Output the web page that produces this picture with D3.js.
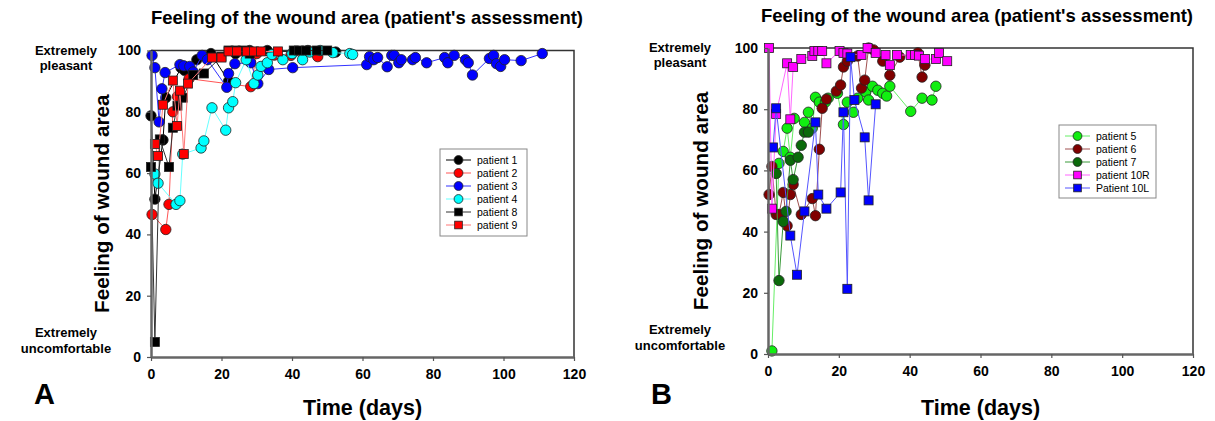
<!DOCTYPE html>
<html><head><meta charset="utf-8">
<script src="https://cdn.jsdelivr.net/npm/d3@7"></script>
<style>
body{margin:0;background:#fff;}
text{font-family:"Liberation Sans",Arial,sans-serif;font-weight:bold;fill:#000;}
</style></head>
<body><svg id="c" width="1215" height="421"></svg>
<script>
// ---------- data (day, score) ----------
const patient1 = [[0,78.7],[1.1,51.5],[3.4,70.8],[4.2,84.6],[8.5,94.4],[9.5,93.5],[13,97],[17,99],[22,90],[24,99],[28,100],[33,100],[40.5,99.5],[44.5,100],[46.3,99.5],[52.4,99.5]];
const patient2 = [[0.3,46.5],[4.2,41.6],[5.1,49.8],[6.2,80],[7.5,85],[10.8,90.8],[28.3,88.2],[30,99],[35,98.5],[39.7,98.4],[47.3,98]];
const patient3 = [[0.3,98.4],[1.1,94.4],[2.3,76.7],[3.1,87.5],[4,92.8],[8.2,95.4],[9.3,95],[11,94.8],[12,93],[14.5,98.4],[16,97],[21.5,88],[22,92.5],[23.8,95.7],[28.3,96],[30.3,89.2],[33.4,93.8],[40.2,94.4],[61.2,95.4],[62,98],[63.2,97],[64.3,97.7],[67,94.7],[68.3,98.4],[69,98.4],[70.3,96],[71,97],[74.2,97],[75,97.7],[78.2,96],[83.3,97.7],[84.2,96],[86,98.4],[89.2,97],[90,96],[91.2,92],[96,97.4],[97.2,98.4],[98,95.7],[99.2,94.8],[100.3,97],[105,96.7],[111,99]];
const patient4 = [[1.1,59.7],[2,56.7],[7.1,49.8],[8.2,51],[9,66.2],[14.2,68.2],[15,70.5],[17.3,81.3],[21.2,74],[22,81.3],[23.2,83.3],[24,89.5],[27,97],[29.2,89.2],[30.3,92],[31.2,94.8],[33,96],[34.3,98.7],[37.4,97],[40,99],[43,97],[45,99.5],[48,100],[51.6,99.3],[56.4,99],[57.2,98.7]];
const patient8 = [[0,62],[1.1,4.9],[2.5,71],[5.1,62],[6.2,74.8],[7.5,82],[9,84.6],[12,92],[15,92.5],[20,98],[22,100],[24,100],[26,100],[28,99],[40.5,100],[42,100],[44,100],[47,100],[50,100]];
const patient9 = [[1.1,69.5],[2,65.6],[3.4,82.3],[6.2,90.2],[7.4,75.4],[8.2,86.9],[9.3,66.2],[10.5,89.2],[17.3,97.7],[20,97.7],[22,99.7],[24.4,99.7],[27.2,99.7],[29.2,99.7],[31.2,99.7],[36,99.7]];

const patient5 = [[1.1,1],[3.1,62.3],[4.3,66.2],[5.4,73.8],[6.3,64.3],[7.4,77],[10.3,75.7],[11.4,79],[12.5,73.8],[13.4,83.9],[14.5,82.3],[16.2,82.3],[17,83.6],[19.6,85.2],[21.3,75],[22.4,82.3],[24.1,79],[25.3,83.6],[27.6,85.6],[28.4,83],[29.5,87.5],[31,86.2],[32.4,85.2],[33.5,84.3],[34.4,87.5],[40.3,79.3],[43.5,83.6],[46.3,83],[47.4,87.5]];
const patient6 = [[0.3,52.1],[1.1,61.3],[2.3,45.6],[3.1,45.6],[4.3,52.8],[5.4,41.9],[6.3,52.1],[7.1,55.4],[9.4,45.6],[12.5,50.8],[13.4,45.2],[14.5,66.9],[15.3,80.3],[16.5,83.3],[19.3,85.9],[20.5,87.9],[21.3,93.8],[22.4,95.7],[25.3,97.4],[26.4,86.9],[27.3,89.5],[28.4,100],[29.8,99.4],[32.4,95.7],[34.4,91.1],[37.2,97],[42.3,98.4],[43.5,90.5],[44.3,94.4]];
const patient7 = [[2.3,59],[3.1,24],[4.3,43.3],[5.1,46.6],[6.3,63.3],[7.1,57],[8.5,64.3],[9.4,68.2],[10.3,72.5],[11.4,72.5]];
const patient10R = [[0.3,100],[1.1,47.5],[2.3,78.4],[5.4,95],[6.3,76.7],[7.1,93.8],[9.4,96.4],[12.5,97.4],[13.1,99],[14.2,99],[15.3,99],[16.5,95],[20.2,99],[21.3,98.4],[22.4,98.2],[26.4,97.7],[28.1,100],[30.4,98.4],[33.2,97.7],[34.4,94.4],[36.4,97.7],[40.3,97.7],[41.5,97.7],[42.6,97.5],[44.3,96.4],[47.4,96.4],[48.3,98.4],[50.6,95.7]];
const patient10L = [[1.4,67.5],[2.3,80.3],[6.3,38.7],[8.2,25.9],[10.3,46.6],[13.4,75.7],[14.2,52.1],[16.5,47.5],[20.5,52.8],[21.3,79],[22.4,21.3],[23.3,97],[24.4,83],[27.3,70.8],[28.4,50.2],[30.4,81.6]];

const xTicks = [0,20,40,60,80,100,120];
const yTicks = [0,20,40,60,80,100];
const titleText = "Feeling of the wound area (patient's assessment)";
const yTitle = "Feeling of wound area";
const xTitle = "Time (days)";

const seriesA = [
  {name:"patient 1", data:patient1, shape:"circle", fill:"#000000", line:"#000000"},
  {name:"patient 2", data:patient2, shape:"circle", fill:"#ff0000", line:"#ff5555"},
  {name:"patient 3", data:patient3, shape:"circle", fill:"#0000ff", line:"#3333ff"},
  {name:"patient 4", data:patient4, shape:"circle", fill:"#00ffff", line:"#66ffff"},
  {name:"patient 8", data:patient8, shape:"square", fill:"#000000", line:"#333333"},
  {name:"patient 9", data:patient9, shape:"square", fill:"#ff0000", line:"#ff7777"}
];
const seriesB = [
  {name:"patient 5", data:patient5, shape:"circle", fill:"#11ee11", line:"#66ee66"},
  {name:"patient 6", data:patient6, shape:"circle", fill:"#800000", line:"#a05050"},
  {name:"patient 7", data:patient7, shape:"circle", fill:"#0a6a0a", line:"#3a9a3a"},
  {name:"patient 10R", data:patient10R, shape:"square", fill:"#ff00ff", line:"#ff66ff"},
  {name:"Patient 10L", data:patient10L, shape:"square", fill:"#0000ff", line:"#5555ff"}
];

const svg = d3.select("#c");
svg.append("rect").attr("width",1215).attr("height",421).attr("fill","#fff");

function panel(cfg){
  const x = d3.scaleLinear().domain([0,120]).range([cfg.x0,cfg.x1]);
  const y = d3.scaleLinear().domain([0,100]).range([cfg.y0,cfg.y1]);
  const g = svg.append("g");
  g.append("path").attr("d",`M${cfg.x0},${cfg.y1}H${cfg.x1}V${cfg.y0}`)
    .attr("fill","none").attr("stroke","#333").attr("stroke-width",1.5);
  cfg.series.forEach(s=>{
    g.append("path").datum(s.data)
      .attr("d",d3.line().x(d=>x(d[0])).y(d=>y(d[1])))
      .attr("fill","none").attr("stroke",s.line).attr("stroke-width",1);
    drawMarkers(g, s, s.data.map(d=>[x(d[0]),y(d[1])]));
  });
  const xa = g.append("g").attr("transform",`translate(0,${cfg.y0})`)
    .call(d3.axisBottom(x).tickValues(xTicks).tickSize(4).tickSizeOuter(0).tickPadding(8));
  const ya = g.append("g").attr("transform",`translate(${cfg.x0},0)`)
    .call(d3.axisLeft(y).tickValues(yTicks).tickSize(4).tickSizeOuter(0).tickPadding(6));
  [xa,ya].forEach(a=>{
    a.select(".domain").attr("stroke","#666").attr("stroke-width",2.5);
    a.selectAll(".tick line").attr("stroke","#555").attr("stroke-width",1.2);
    a.selectAll(".tick text").attr("font-size",14).style("font-weight","bold")
      .attr("font-family","'Liberation Sans',Arial,sans-serif").attr("fill","#000");
  });
  g.append("text").attr("x",cfg.titleX).attr("y",cfg.titleY).attr("text-anchor","middle")
    .attr("font-size",18.5).text(titleText);
  g.append("text").attr("transform",`translate(${cfg.yTitleX},${(cfg.y0+cfg.y1)/2}) rotate(-90)`)
    .attr("text-anchor","middle").attr("font-size",20.7).text(yTitle);
  g.append("text").attr("x",(cfg.x0+cfg.x1)/2).attr("y",415).attr("text-anchor","middle")
    .attr("font-size",21.5).text(xTitle);
  g.append("text").attr("x",cfg.letterX).attr("y",404).attr("font-size",29).text(cfg.letter);
  const ex = cfg.extX;
  g.append("text").attr("x",ex).attr("y",y(100)+4).attr("text-anchor","middle").attr("font-size",13).text("Extremely");
  g.append("text").attr("x",ex).attr("y",y(100)+19).attr("text-anchor","middle").attr("font-size",13).text("pleasant");
  g.append("text").attr("x",ex).attr("y",y(0)-20).attr("text-anchor","middle").attr("font-size",13).text("Extremely");
  g.append("text").attr("x",ex).attr("y",y(0)-4).attr("text-anchor","middle").attr("font-size",13).text("uncomfortable");
  const L = cfg.legend;
  g.append("rect").attr("x",L.x).attr("y",L.y).attr("width",L.w).attr("height",L.h)
    .attr("fill","#fff").attr("stroke","#888").attr("stroke-width",1);
  cfg.series.forEach((s,i)=>{
    const yy = L.y + 11 + i*13;
    g.append("line").attr("x1",L.x+6).attr("x2",L.x+31).attr("y1",yy).attr("y2",yy)
      .attr("stroke",s.line).attr("stroke-width",1);
    drawMarkers(g, s, [[L.x+18.5,yy]], 0.85);
    g.append("text").attr("x",L.x+37).attr("y",yy+4).attr("font-size",10.5)
      .style("font-weight","normal").text(s.name);
  });
}

function drawMarkers(g, s, pts, k=1){
  if(s.shape==="circle"){
    g.selectAll(null).data(pts).enter().append("circle")
      .attr("cx",d=>d[0]).attr("cy",d=>d[1]).attr("r",5.2*k)
      .attr("fill",s.fill).attr("stroke","#222").attr("stroke-width",0.8);
  } else {
    const h=4.5*k;
    g.selectAll(null).data(pts).enter().append("rect")
      .attr("x",d=>d[0]-h).attr("y",d=>d[1]-h).attr("width",2*h).attr("height",2*h)
      .attr("fill",s.fill).attr("stroke","#222").attr("stroke-width",0.8);
  }
}

panel({x0:151,x1:574,y0:357,y1:50.5,series:seriesA,titleX:367,titleY:24,yTitleX:109,letter:"A",letterX:34,extX:66,
  legend:{x:440,y:149,w:87,h:87}});
panel({x0:768,x1:1193,y0:354,y1:48,series:seriesB,titleX:977,titleY:22,yTitleX:708,letter:"B",letterX:651,extX:680,
  legend:{x:1059,y:125,w:97,h:73}});
</script></body></html>
